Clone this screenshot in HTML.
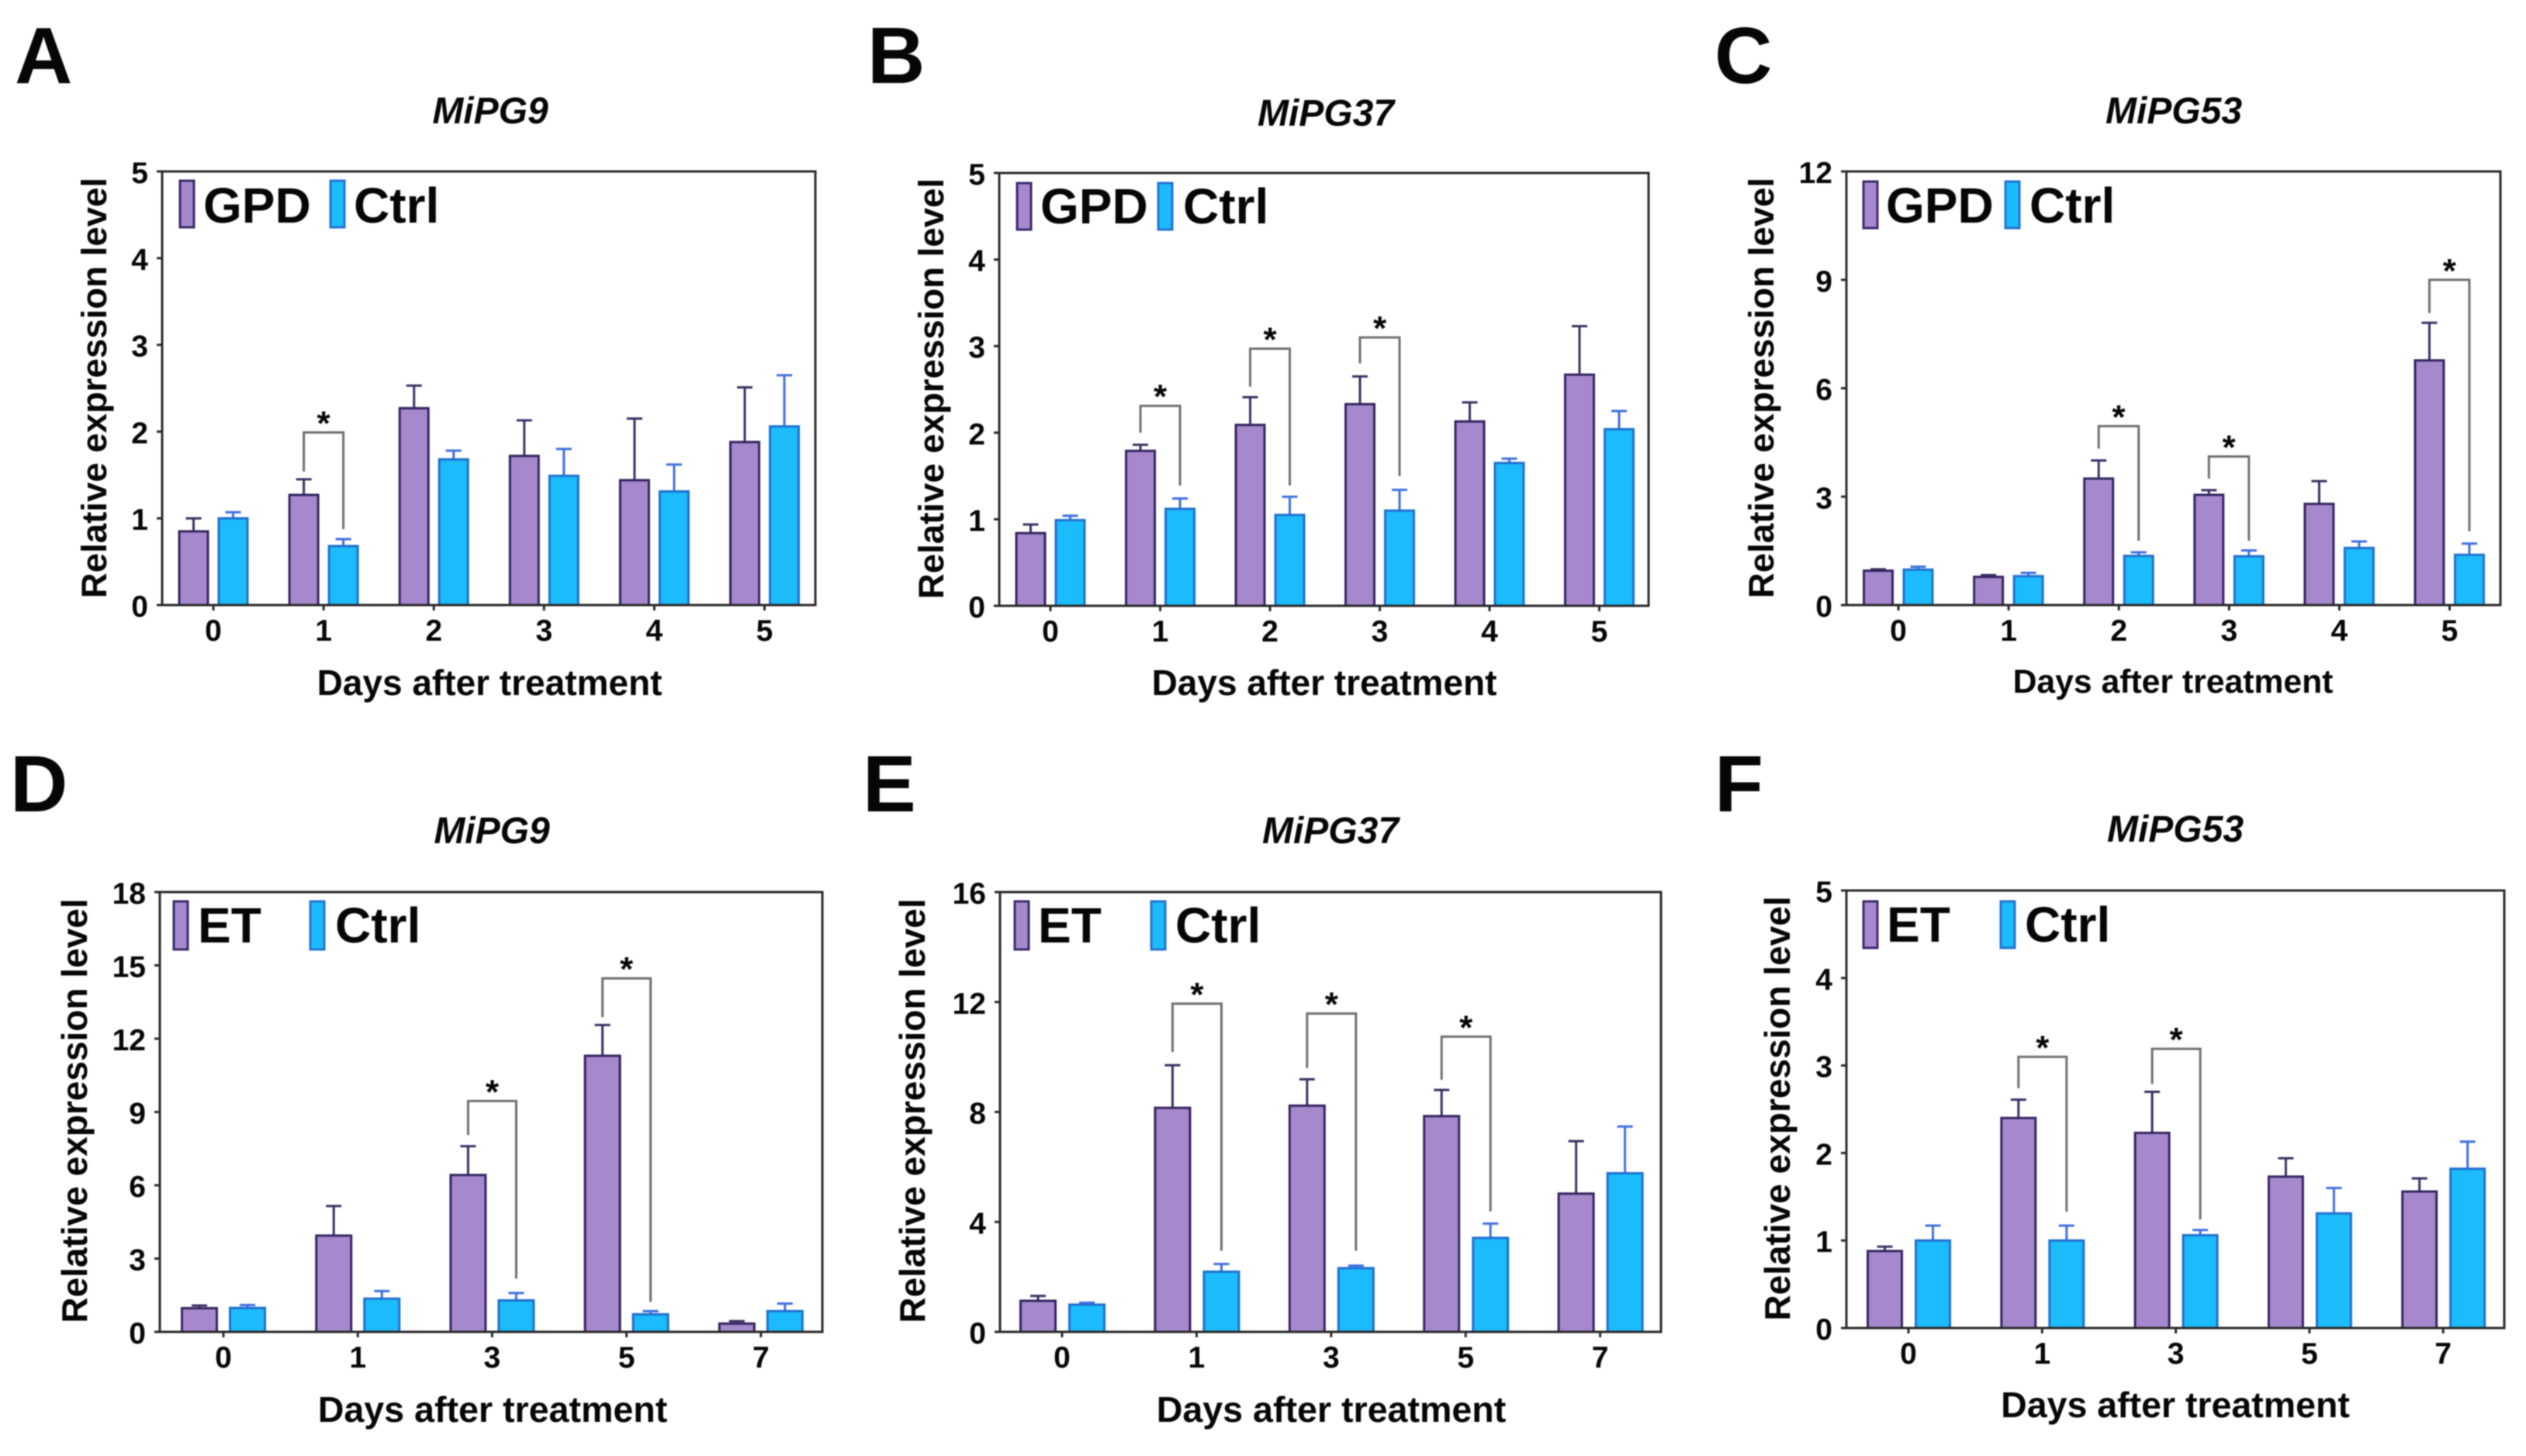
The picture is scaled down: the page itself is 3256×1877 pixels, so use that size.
<!DOCTYPE html>
<html lang="en">
<head>
<meta charset="utf-8">
<title>Relative expression of MiPG genes</title>
<style>
html,body{margin:0;padding:0;background:#fff;width:3256px;height:1877px;overflow:hidden}
svg{display:block;filter:blur(0.8px)}
text{font-family:"Liberation Sans",Arial,sans-serif;font-weight:bold;fill:#060606}
.letter{font-size:103px}
.title{font-size:48px;font-style:italic;text-anchor:middle}
.xtitle{font-size:46px;text-anchor:middle}
.ytitle{font-size:45.6px;text-anchor:middle}
.leg{font-size:64px}
.tick{font-size:39px}
.sw-g{fill:#A688CC;stroke:#3A2A6A;stroke-width:3}
.sw-c{fill:#1CBBFB;stroke:#2373D2;stroke-width:3}
.frame{fill:none;stroke:#2a2a2a;stroke-width:3}
</style>
</head>
<body>
<svg id="figure" xmlns="http://www.w3.org/2000/svg" width="3256" height="1877" viewBox="0 0 3256 1877">
  <rect width="3256" height="1877" fill="#fff"/>

  <g id="panel-a">
    <text class="letter" x="19" y="107">A</text>
    <text class="title" x="632" y="159">MiPG9</text>
    <text class="xtitle" x="631" y="896">Days after treatment</text>
    <text class="ytitle" transform="translate(137,500) rotate(-90)">Relative expression level</text>
    <rect class="sw-g" x="232" y="233" width="18" height="60"/>
    <text class="leg" x="262" y="287">GPD</text>
    <rect class="sw-c" x="426" y="233" width="18" height="60"/>
    <text class="leg" x="456" y="287">Ctrl</text>
  </g>

  <g id="panel-b">
    <text class="letter" x="1118" y="107">B</text>
    <text class="title" x="1709" y="162">MiPG37</text>
    <text class="xtitle" x="1707" y="896">Days after treatment</text>
    <text class="ytitle" transform="translate(1216,501) rotate(-90)">Relative expression level</text>
    <rect class="sw-g" x="1311" y="236" width="18" height="60"/>
    <text class="leg" x="1341" y="288">GPD</text>
    <rect class="sw-c" x="1493" y="236" width="18" height="60"/>
    <text class="leg" x="1525" y="288">Ctrl</text>
  </g>

  <g id="panel-c">
    <text class="letter" x="2210" y="107">C</text>
    <text class="title" x="2802" y="159">MiPG53</text>
    <text class="xtitle" x="2801" y="893" style="font-size:42.7px">Days after treatment</text>
    <text class="ytitle" transform="translate(2286,500) rotate(-90)">Relative expression level</text>
    <rect class="sw-g" x="2402" y="234" width="18" height="60"/>
    <text class="leg" x="2431" y="287">GPD</text>
    <rect class="sw-c" x="2585" y="234" width="18" height="60"/>
    <text class="leg" x="2616" y="287">Ctrl</text>
  </g>

  <g id="panel-d">
    <text class="letter" x="13" y="1046">D</text>
    <text class="title" x="634" y="1087">MiPG9</text>
    <text class="xtitle" x="635" y="1833" style="font-size:46.6px">Days after treatment</text>
    <text class="ytitle" transform="translate(112,1432) rotate(-90)" style="font-size:46px">Relative expression level</text>
    <rect class="sw-g" x="224" y="1162" width="18" height="62"/>
    <text class="leg" x="255" y="1215">ET</text>
    <rect class="sw-c" x="400" y="1162" width="18" height="62"/>
    <text class="leg" x="432" y="1215">Ctrl</text>
  </g>

  <g id="panel-e">
    <text class="letter" x="1112" y="1046">E</text>
    <text class="title" x="1715" y="1087">MiPG37</text>
    <text class="xtitle" x="1716" y="1833" style="font-size:46.6px">Days after treatment</text>
    <text class="ytitle" transform="translate(1192,1432) rotate(-90)" style="font-size:46px">Relative expression level</text>
    <rect class="sw-g" x="1308" y="1162" width="18" height="62"/>
    <text class="leg" x="1338" y="1215">ET</text>
    <rect class="sw-c" x="1484" y="1162" width="18" height="62"/>
    <text class="leg" x="1515" y="1215">Ctrl</text>
  </g>

  <g id="panel-f">
    <text class="letter" x="2210" y="1046">F</text>
    <text class="title" x="2804" y="1085">MiPG53</text>
    <text class="xtitle" x="2804" y="1827" style="font-size:46.5px">Days after treatment</text>
    <text class="ytitle" transform="translate(2307,1429) rotate(-90)" style="font-size:46px">Relative expression level</text>
    <rect class="sw-g" x="2402" y="1162" width="18" height="60"/>
    <text class="leg" x="2432" y="1214">ET</text>
    <rect class="sw-c" x="2579" y="1162" width="18" height="60"/>
    <text class="leg" x="2610" y="1214">Ctrl</text>
  </g>
</svg>

<script>
// Panel A data
const aCategories = ['0','1','2','3','4','5'];
const aYTicks = [0,1,2,3,4,5];
const aTreat = [0.85,1.27,2.27,1.72,1.44,1.88];
const aTreatErr = [1.00,1.45,2.53,2.13,2.15,2.51];
const aCtrl = [1.00,0.68,1.68,1.49,1.31,2.06];
const aCtrlErr = [1.07,0.76,1.78,1.80,1.62,2.65];
const aSigGroups = [1];
const aSigTop = [1.99];
const aSigLeftEnd = [1.54];
const aSigRightEnd = [0.875];

// Panel B data
const bCategories = ['0','1','2','3','4','5'];
const bYTicks = [0,1,2,3,4,5];
const bTreat = [0.84,1.79,2.09,2.33,2.13,2.67];
const bTreatErr = [0.94,1.86,2.41,2.65,2.35,3.23];
const bCtrl = [0.99,1.12,1.05,1.10,1.65,2.04];
const bCtrlErr = [1.04,1.24,1.26,1.34,1.70,2.25];
const bSigGroups = [1,2,3];
const bSigTop = [2.31,2.97,3.10];
const bSigLeftEnd = [2.00,2.53,2.80];
const bSigRightEnd = [1.39,1.39,1.50];

// Panel C data
const cCategories = ['0','1','2','3','4','5'];
const cYTicks = [0,3,6,9,12];
const cTreat = [0.95,0.78,3.50,3.05,2.80,6.77];
const cTreatErr = [0.99,0.83,4.00,3.18,3.43,7.81];
const cCtrl = [0.98,0.80,1.36,1.35,1.58,1.39];
const cCtrlErr = [1.06,0.89,1.46,1.51,1.76,1.70];
const cSigGroups = [2,3,5];
const cSigTop = [4.95,4.11,9.00];
const cSigLeftEnd = [4.33,3.50,8.08];
const cSigRightEnd = [1.78,1.78,2.04];

// Panel D data
const dCategories = ['0','1','3','5','7'];
const dYTicks = [0,3,6,9,12,15,18];
const dTreat = [0.97,3.94,6.42,11.30,0.34];
const dTreatErr = [1.08,5.15,7.60,12.56,0.44];
const dCtrl = [0.98,1.36,1.29,0.72,0.85];
const dCtrlErr = [1.10,1.67,1.59,0.85,1.16];
const dSigGroups = [2,3];
const dSigTop = [9.45,14.47];
const dSigLeftEnd = [8.05,12.88];
const dSigRightEnd = [2.18,1.23];

// Panel E data
const eCategories = ['0','1','3','5','7'];
const eYTicks = [0,4,8,12,16];
const eTreat = [1.13,8.15,8.23,7.85,5.03];
const eTreatErr = [1.31,9.70,9.19,8.80,6.94];
const eCtrl = [0.99,2.19,2.32,3.42,5.77];
const eCtrlErr = [1.06,2.47,2.41,3.94,7.47];
const eSigGroups = [1,2,3];
const eSigTop = [11.94,11.58,10.74];
const eSigLeftEnd = [10.18,9.60,9.17];
const eSigRightEnd = [2.95,2.95,4.38];

// Panel F data
const fCategories = ['0','1','3','5','7'];
const fYTicks = [0,1,2,3,4,5];
const fTreat = [0.88,2.40,2.23,1.73,1.56];
const fTreatErr = [0.93,2.61,2.70,1.94,1.71];
const fCtrl = [1.00,1.00,1.06,1.31,1.82];
const fCtrlErr = [1.17,1.17,1.12,1.60,2.13];
const fSigGroups = [1,2];
const fSigTop = [3.10,3.19];
const fSigLeftEnd = [2.74,2.79];
const fSigRightEnd = [1.33,1.24];

const SVGNS = 'http://www.w3.org/2000/svg';

function make(parent, tag, attrs) {
  const el = document.createElementNS(SVGNS, tag);
  for (const k in attrs) el.setAttribute(k, attrs[k]);
  parent.appendChild(el);
  return el;
}

function drawPanel(id, box, d) {
  const root = document.getElementById('panel-' + id);
  const yMax = d.yTicks[d.yTicks.length - 1];
  const yScale = v => box.bottom - (v / yMax) * (box.bottom - box.top);
  const xScale = i => box.first + i * box.step;

  // error bars sit behind the bars
  const series = [
    {key: 'treatment', vals: d.treat, errs: d.treatErr, off: box.offTreat, fill: '#A688CC', stroke: '#33255F', err: '#3B2F63'},
    {key: 'ctrl', vals: d.ctrl, errs: d.ctrlErr, off: box.offCtrl, fill: '#1CBBFB', stroke: '#2070CE', err: '#3F6FE0'}
  ];
  series.forEach(s => {
    s.vals.forEach((v, i) => {
      const cx = xScale(i) + s.off;
      const stem = make(root, 'line', {x1: cx, x2: cx, y1: yScale(v), y2: yScale(s.errs[i]), stroke: s.err, 'stroke-width': 3});
      
      
      const cap = make(root, 'line', {x1: cx - 10, x2: cx + 10, y1: yScale(s.errs[i]), y2: yScale(s.errs[i]), stroke: s.err, 'stroke-width': 3});
      
      
      const bar = make(root, 'rect', {x: cx - box.barW / 2, y: yScale(v), width: box.barW, height: box.bottom - yScale(v), fill: s.fill, stroke: s.stroke, 'stroke-width': 3});
      
      
    });
  });

  // frame
  const frame = make(root, 'rect', {class: 'frame', x: box.left, y: box.top, width: box.right - box.left, height: box.bottom - box.top});
  
  

  // y axis ticks
  d.yTicks.forEach(t => {
    const mark = make(root, 'line', {x1: box.left - 7, x2: box.left, y1: yScale(t), y2: yScale(t), stroke: '#2a2a2a', 'stroke-width': 3});
    
    
    const label = make(root, 'text', {class: 'tick', x: box.left - 18, y: yScale(t) + 15, 'text-anchor': 'end'});
    
    
    label.textContent = String(t);
  });

  // x axis ticks
  d.categories.forEach((c, i) => {
    const mark = make(root, 'line', {x1: xScale(i), x2: xScale(i), y1: box.bottom, y2: box.bottom + 7, stroke: '#2a2a2a', 'stroke-width': 3});
    
    
    const label = make(root, 'text', {class: 'tick', x: xScale(i), y: box.bottom + 46, 'text-anchor': 'middle'});
    
    
    label.textContent = c;
  });

  // significance brackets
  d.sigGroups.forEach((g, k) => {
    const xa = xScale(g) + box.offTreat;
    const xb = xScale(g) + box.offCtrl;
    const pts = [xa, yScale(d.sigLeftEnd[k]), xa, yScale(d.sigTop[k]), xb, yScale(d.sigTop[k]), xb, yScale(d.sigRightEnd[k])].join(' ');
    const bracket = make(root, 'polyline', {points: pts, fill: 'none', stroke: '#707070', 'stroke-width': 3});
    
    
    const star = make(root, 'text', {x: (xa + xb) / 2, y: yScale(d.sigTop[k]) + 3, 'text-anchor': 'middle', 'font-size': 44});
    
    
    star.textContent = '*';
  });
}

drawPanel('a',
  {left: 209, right: 1051, top: 221, bottom: 780, first: 275, step: 142.1, offTreat: -25.5, offCtrl: 25.5, barW: 37},
  {categories: aCategories, yTicks: aYTicks, treat: aTreat, treatErr: aTreatErr, ctrl: aCtrl, ctrlErr: aCtrlErr, sigGroups: aSigGroups, sigTop: aSigTop, sigLeftEnd: aSigLeftEnd, sigRightEnd: aSigRightEnd});
drawPanel('b',
  {left: 1288, right: 2125, top: 223, bottom: 781, first: 1354, step: 141.5, offTreat: -25.5, offCtrl: 25.5, barW: 37},
  {categories: bCategories, yTicks: bYTicks, treat: bTreat, treatErr: bTreatErr, ctrl: bCtrl, ctrlErr: bCtrlErr, sigGroups: bSigGroups, sigTop: bSigTop, sigLeftEnd: bSigLeftEnd, sigRightEnd: bSigRightEnd});
drawPanel('c',
  {left: 2380, right: 3223, top: 221, bottom: 780, first: 2447, step: 142.1, offTreat: -26, offCtrl: 25.5, barW: 37},
  {categories: cCategories, yTicks: cYTicks, treat: cTreat, treatErr: cTreatErr, ctrl: cCtrl, ctrlErr: cCtrlErr, sigGroups: cSigGroups, sigTop: cSigTop, sigLeftEnd: cSigLeftEnd, sigRightEnd: cSigRightEnd});
drawPanel('d',
  {left: 206, right: 1060, top: 1150, bottom: 1717, first: 288, step: 173.2, offTreat: -31, offCtrl: 31, barW: 45},
  {categories: dCategories, yTicks: dYTicks, treat: dTreat, treatErr: dTreatErr, ctrl: dCtrl, ctrlErr: dCtrlErr, sigGroups: dSigGroups, sigTop: dSigTop, sigLeftEnd: dSigLeftEnd, sigRightEnd: dSigRightEnd});
drawPanel('e',
  {left: 1289, right: 2141, top: 1150, bottom: 1717, first: 1369, step: 173.4, offTreat: -31, offCtrl: 32, barW: 45},
  {categories: eCategories, yTicks: eYTicks, treat: eTreat, treatErr: eTreatErr, ctrl: eCtrl, ctrlErr: eCtrlErr, sigGroups: eSigGroups, sigTop: eSigTop, sigLeftEnd: eSigLeftEnd, sigRightEnd: eSigRightEnd});
drawPanel('f',
  {left: 2380, right: 3228, top: 1148, bottom: 1712, first: 2460, step: 172.3, offTreat: -30.5, offCtrl: 31.5, barW: 44},
  {categories: fCategories, yTicks: fYTicks, treat: fTreat, treatErr: fTreatErr, ctrl: fCtrl, ctrlErr: fCtrlErr, sigGroups: fSigGroups, sigTop: fSigTop, sigLeftEnd: fSigLeftEnd, sigRightEnd: fSigRightEnd});
</script>
</body>
</html>
